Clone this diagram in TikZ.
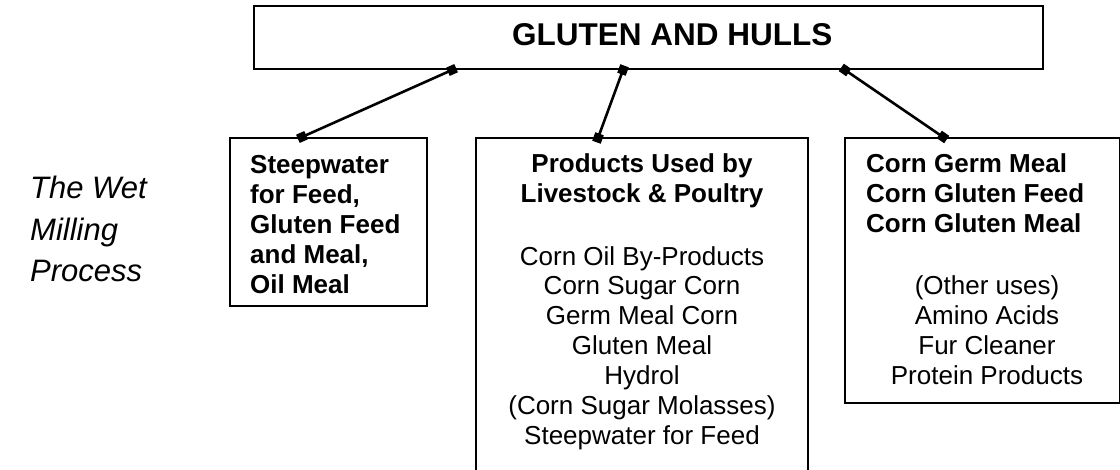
\documentclass[tikz,border=0pt]{standalone}
\usepackage{fontspec}
\setmainfont{Liberation Sans}
\usetikzlibrary{arrows.meta}
\begin{document}
\begin{tikzpicture}[x=1pt,y=-1pt,
  box/.style={draw,line width=2pt,rectangle,inner sep=0pt,anchor=north west},
  conn/.style={line width=2.6pt,shorten <=-4.5pt,shorten >=-4.5pt,
    {Square[length=9pt,width=9pt]}-{Square[length=9pt,width=9pt]}},
  boldtxt/.style={inner sep=0pt,anchor=base west,align=left,font=\fontsize{26}{30}\selectfont\bfseries},
  boldctr/.style={inner sep=0pt,anchor=base,align=center,font=\fontsize{26}{30}\selectfont\bfseries},
  normctr/.style={inner sep=0pt,anchor=base,align=center,font=\fontsize{26}{30}\selectfont},
  sidetxt/.style={inner sep=0pt,anchor=base west,align=left,font=\fontsize{31}{41.5}\selectfont\itshape}]
\useasboundingbox (0,0) rectangle (1120,470);

% boxes
\node[box,minimum width=789pt,minimum height=63pt] (top) at (253,5) {};
\node[box,minimum width=197pt,minimum height=168pt] (lbox) at (229,137) {};
\node[inner sep=0pt,anchor=north west,minimum width=332pt,minimum height=336pt] (mbox) at (476,138) {};
\draw[line width=2pt] (mbox.south west) -- (mbox.north west) -- (mbox.north east) -- (mbox.south east);
\node[box,minimum width=275pt,minimum height=265pt] (rbox) at (844,137) {};

% texts (base anchor = baseline of the last line)
\node[inner sep=0pt,anchor=base west,font=\fontsize{31.5}{36}\selectfont\bfseries] (title) at (512,46) {GLUTEN AND HULLS};
\node[sidetxt] (side) at (30,282) {The Wet\\Milling\\Process};
\node[boldtxt] (ltext) at (250,294) {Steepwater\\for Feed,\\Gluten Feed\\and Meal,\\Oil Meal};
\node[boldctr] (mhead) at (642,203) {Products Used by\\Livestock \& Poultry};
\node[normctr] (mlist) at (642,445) {Corn Oil By-Products\\Corn Sugar Corn\\Germ Meal Corn\\Gluten Meal\\Hydrol\\(Corn Sugar Molasses)\\Steepwater for Feed};
\node[boldtxt] (rhead) at (866,233) {Corn Germ Meal\\Corn Gluten Feed\\Corn Gluten Meal};
\node[normctr] (rlist) at (987,385) {(Other uses)\\Amino Acids\\Fur Cleaner\\Protein Products};

% connector ends
\path (lbox.north west) ++(73,0) coordinate (a1);
\path (top.south west) ++(199,0) coordinate (b1);
\path (mbox.north west) ++(122,0) coordinate (a2);
\path (top.south west) ++(370,0) coordinate (b2);
\path (rbox.north west) ++(99,0) coordinate (a3);
\path (top.south west) ++(592,0) coordinate (b3);

\draw[conn] (a1) -- (b1);
\draw[conn] (a2) -- (b2);
\draw[conn] (a3) -- (b3);
\end{tikzpicture}
\end{document}
